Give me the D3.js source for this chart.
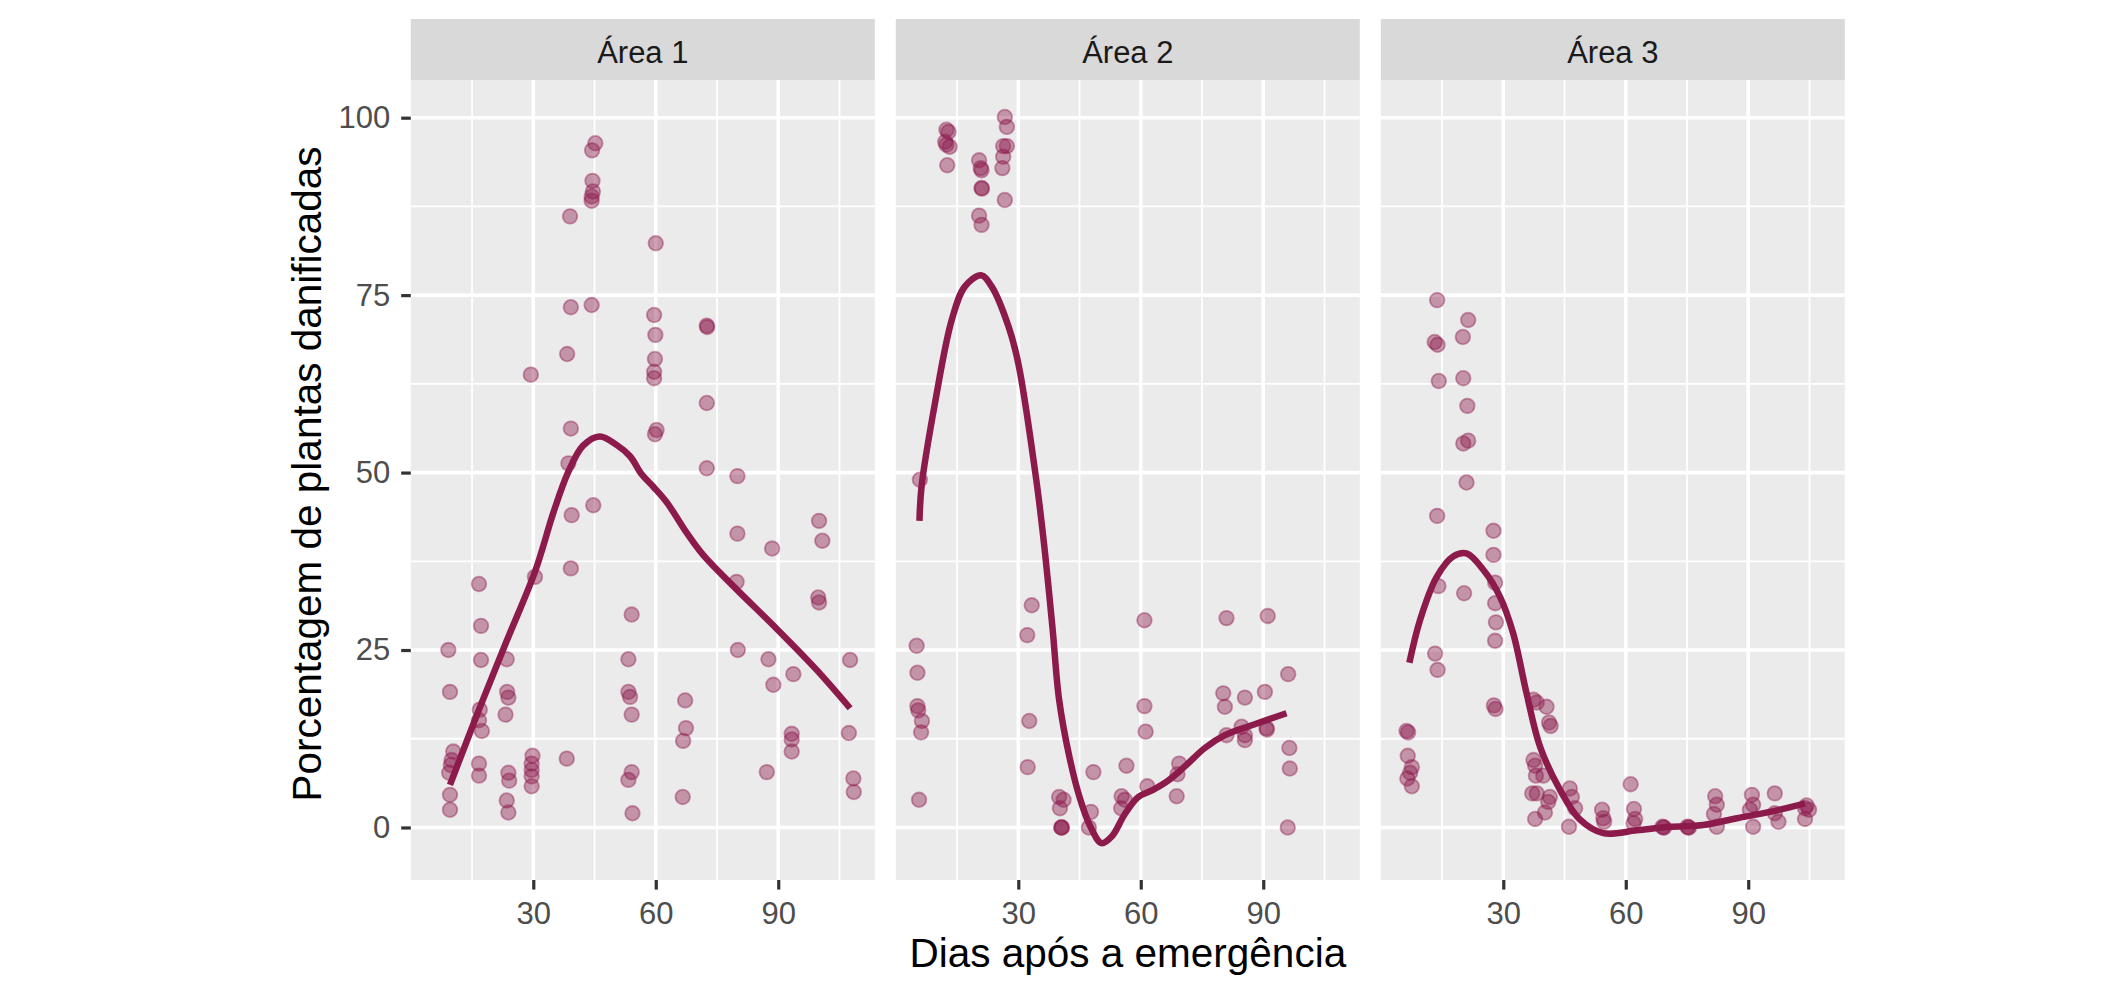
<!DOCTYPE html>
<html>
<head>
<meta charset="utf-8">
<script src="https://cdn.jsdelivr.net/npm/d3@7"></script>
<style>
  html, body { margin: 0; padding: 0; background: #ffffff; }
  svg { display: block; font-family: "Liberation Sans", Arial, Helvetica, sans-serif; }
</style>
</head>
<body>
<svg id="chart" width="2124" height="984"></svg>
<script>
// ---------------- DATA ----------------
const areas = ["Área 1", "Área 2", "Área 3"];

const area1Days = [45.2,44.4,44.5,44.6,44.3,44.3,39.0,60.0,39.2,44.3,59.6,59.9,72.5,72.6,38.3,29.4,59.8,59.6,59.6,72.5,39.2,60.2,59.8,38.6,72.5,80.0,
  39.4,44.7,80.0,88.5,100.0,100.8,39.2,16.7,30.4,79.8,99.8,100.0,54.1,17.2,9.2,17.2,23.5,53.3,80.1,87.6,107.6,9.6,23.6,23.9,53.3,53.7,88.8,93.7,
  23.2,54.1,67.2,16.9,16.7,17.4,67.4,66.7,93.3,93.3,93.3,107.3,10.4,10.0,9.8,9.4,16.7,16.7,23.9,24.1,23.5,23.9,29.8,29.6,29.6,29.6,29.6,38.2,
  54.1,53.3,54.3,66.6,87.2,108.4,108.5,9.6,9.6];
const area1Pct = [96.4,95.4,91.1,89.6,88.9,88.3,86.1,82.3,73.3,73.6,72.2,69.4,70.7,70.5,66.7,63.8,66.0,64.2,63.3,59.8,56.2,56.0,55.4,51.3,50.6,49.5,
  44.0,45.4,41.4,39.3,43.2,40.4,36.5,34.3,35.3,34.6,32.4,31.7,30.0,28.4,25.0,23.6,23.7,23.7,25.0,23.7,23.6,19.1,19.1,18.3,19.1,18.4,20.1,21.6,
  15.9,15.9,17.9,16.6,15.1,13.6,14.0,12.2,13.2,12.4,10.7,13.3,10.7,9.5,8.8,7.7,9.0,7.3,7.7,6.6,3.8,2.1,10.1,9.0,8.1,7.2,5.8,9.7,
  7.8,6.7,2.0,4.3,7.8,6.9,5.0,4.6,2.5];

const area2Days = [12.4,12.9,12.1,12.4,13.2,12.6,26.7,27.2,26.3,27.2,26.3,26.1,26.7,20.4,20.8,21.0,21.0,21.1,20.4,21.0,5.9,5.1,5.3,5.3,5.5,6.4,6.2,5.7,
  33.3,32.2,32.7,32.3,40.0,41.1,40.2,40.6,40.7,40.5,48.4,47.8,47.3,56.5,55.3,56.1,55.2,60.9,60.9,61.2,61.6,68.8,69.4,69.0,
  81.0,80.2,80.6,81.0,85.5,84.7,85.5,85.5,91.1,90.4,90.8,90.9,96.1,96.4,96.5,96.0];
const area2Pct = [98.3,98.0,96.6,96.2,95.9,93.3,100.1,98.7,96.0,96.0,94.5,92.9,88.4,94.0,92.9,92.6,90.1,90.0,86.2,84.9,49.0,25.6,21.8,17.1,16.5,15.0,13.4,3.9,
  31.3,27.1,15.0,8.5,4.3,3.9,2.7,0,0,0,7.8,2.2,0,8.7,4.4,3.9,2.7,29.2,17.1,13.5,5.8,4.4,9.0,7.5,
  29.5,18.9,17.0,13.0,18.3,14.2,13.0,12.3,29.8,19.1,14.0,13.8,21.6,11.2,8.3,0];

const area3Days = [13.8,21.4,20.1,13.2,13.9,14.2,20.2,21.2,20.2,21.4,21.0,13.8,27.6,27.6,14.1,20.4,28.0,28.0,28.2,28.0,13.3,13.9,27.7,28.1,
  6.3,6.7,6.6,7.6,7.2,6.5,7.6,37.4,38.2,40.6,41.2,41.6,37.4,37.8,38.0,39.8,37.1,38.2,41.4,41.0,40.2,37.8,46.3,46.8,47.6,46.1,
  54.2,54.5,54.7,61.2,62.0,62.3,61.9,69.2,69.4,69.0,75.3,75.5,75.1,81.9,82.3,81.6,82.3,90.9,91.2,90.4,91.2,96.5,96.5,97.4,
  103.9,104.9,103.9,104.3];
const area3Pct = [74.3,71.5,69.1,68.4,68.0,62.9,63.3,59.4,54.1,54.5,48.6,43.9,41.8,38.4,34.0,33.0,34.5,31.6,28.9,26.3,24.5,22.2,17.2,16.7,
  13.6,13.4,10.1,8.5,7.7,6.9,5.8,18.0,17.6,17.0,14.8,14.3,9.5,8.7,7.3,7.3,4.8,4.8,4.3,3.6,2.1,1.2,5.5,4.3,2.7,0.1,
  2.5,1.3,0.8,6.1,2.6,1.2,0.6,0,0,0.1,0,0,0.1,4.4,3.2,1.9,0.1,4.6,3.2,2.5,0.1,4.8,2.0,0.8,
  2.7,2.5,1.2,3.1];

// smoothed (loess) curves
const area1SmoothDays = [9.6,16.7,23.5,30.4,35.0,38.5,42.2,46.3,50.4,53.7,56.5,59.4,62.7,67.6,71.6,79.0,89.6,99.4,107.6];
const area1SmoothPct  = [6.0,16.6,26.3,36.0,44.5,50.0,53.8,55.1,53.9,52.3,49.8,48.0,45.8,41.5,38.4,34.0,28.0,22.2,16.8];
const area2SmoothDays = [5.8,6.3,9.6,13.7,16.9,20.9,23.5,27.6,30.0,34.4,36.3,38.4,40.0,42.5,45.0,47.6,50.4,53.0,56.0,59.4,63.0,66.7,70.8,75.7,80.6,87.2,95.7];
const area2SmoothPct  = [43.2,48.0,59.8,71.5,76.2,77.8,76.2,70.6,65.4,49.0,40.0,28.0,18.0,10.0,4.3,0.2,-2.2,-1.2,1.8,4.3,5.3,6.6,8.6,11.2,13.0,14.4,16.1];
const area3SmoothDays = [7.0,9.6,13.7,17.8,21.0,25.1,29.2,32.4,35.7,39.0,43.9,48.8,54.5,62.7,70.8,79.0,87.2,95.3,103.9];
const area3SmoothPct  = [23.2,29.2,35.3,38.2,38.6,36.3,32.5,27.4,18.9,11.4,5.3,1.1,-0.8,-0.4,0.1,0.35,1.3,2.2,3.4];

const xTicks = [30, 60, 90];
const xMinor = [15, 45, 75, 105];
const yTicks = [0, 25, 50, 75, 100];
const yMinor = [12.5, 37.5, 62.5, 87.5];
const xTitle = "Dias após a emergência";
const yTitle = "Porcentagem de plantas danificadas";

// ---------------- LAYOUT ----------------
const panelLefts = [410.8, 895.8, 1380.8];
const panelW = 464, panelTop = 80, panelBottom = 880;
const stripTop = 19;
const color = "#8C1B4C";
const tickFont = 31, titleFont = 40.5;

const svg = d3.select("#chart");

const x = d3.scaleLinear().domain([0, 113.65]).range([0, panelW]);
const y = d3.scaleLinear().domain([-7.40, 105.31]).range([panelBottom - panelTop, 0]);

const pointSets = [
  d3.zip(area1Days, area1Pct),
  d3.zip(area2Days, area2Pct),
  d3.zip(area3Days, area3Pct)
];
const smoothSets = [
  d3.zip(area1SmoothDays, area1SmoothPct),
  d3.zip(area2SmoothDays, area2SmoothPct),
  d3.zip(area3SmoothDays, area3SmoothPct)
];

const line = d3.line().x(d => x(d[0])).y(d => y(d[1])).curve(d3.curveCatmullRom.alpha(0.5));

areas.forEach((name, i) => {
  const g = svg.append("g").attr("transform", `translate(${panelLefts[i]},${panelTop})`);
  // strip
  svg.append("rect").attr("x", panelLefts[i]).attr("y", stripTop)
    .attr("width", panelW).attr("height", panelTop - stripTop).attr("fill", "#D9D9D9");
  svg.append("text").attr("x", panelLefts[i] + panelW / 2).attr("y", 62.5)
    .attr("text-anchor", "middle").attr("font-size", tickFont).attr("fill", "#1A1A1A").text(name);
  // panel bg
  g.append("rect").attr("width", panelW).attr("height", panelBottom - panelTop).attr("fill", "#EBEBEB");
  // minor grid
  g.selectAll(".xmin").data(xMinor).join("line")
    .attr("x1", d => x(d)).attr("x2", d => x(d)).attr("y1", 0).attr("y2", panelBottom - panelTop)
    .attr("stroke", "#fff").attr("stroke-width", 1.8);
  g.selectAll(".ymin").data(yMinor).join("line")
    .attr("y1", d => y(d)).attr("y2", d => y(d)).attr("x1", 0).attr("x2", panelW)
    .attr("stroke", "#fff").attr("stroke-width", 1.8);
  // major grid
  g.selectAll(".xmaj").data(xTicks).join("line")
    .attr("x1", d => x(d)).attr("x2", d => x(d)).attr("y1", 0).attr("y2", panelBottom - panelTop)
    .attr("stroke", "#fff").attr("stroke-width", 3.6);
  g.selectAll(".ymaj").data(yTicks).join("line")
    .attr("y1", d => y(d)).attr("y2", d => y(d)).attr("x1", 0).attr("x2", panelW)
    .attr("stroke", "#fff").attr("stroke-width", 3.6);
  // points
  g.selectAll("circle").data(pointSets[i]).join("circle")
    .attr("cx", d => x(d[0])).attr("cy", d => y(d[1])).attr("r", 7.3)
    .attr("fill", color).attr("fill-opacity", 0.42)
    .attr("stroke", color).attr("stroke-opacity", 0.42).attr("stroke-width", 1.8);
  // smooth
  g.append("path").datum(smoothSets[i]).attr("d", line)
    .attr("fill", "none").attr("stroke", color).attr("stroke-width", 6.5)
    .attr("stroke-linecap", "butt").attr("stroke-linejoin", "round");
  // x axis
  const xa = g.append("g").attr("transform", `translate(0,${panelBottom - panelTop})`)
    .call(d3.axisBottom(x).tickValues(xTicks).tickSize(9.6).tickPadding(12));
  xa.select(".domain").remove();
  xa.selectAll("line").attr("stroke", "#333333").attr("stroke-width", 3.2);
  xa.selectAll("text").attr("font-size", tickFont).attr("fill", "#4D4D4D").attr("font-family", "Liberation Sans, Arial, sans-serif");
  if (i === 0) {
    const ya = g.append("g").call(d3.axisLeft(y).tickValues(yTicks).tickSize(9.6).tickPadding(11));
    ya.select(".domain").remove();
    ya.selectAll("line").attr("stroke", "#333333").attr("stroke-width", 3.2);
    ya.selectAll("text").attr("font-size", tickFont).attr("fill", "#4D4D4D").attr("font-family", "Liberation Sans, Arial, sans-serif");
  }
});

// axis titles
svg.append("text").attr("x", (panelLefts[0] + panelLefts[2] + panelW) / 2).attr("y", 967)
  .attr("text-anchor", "middle").attr("font-size", titleFont).attr("fill", "#000").text(xTitle);
svg.append("text").attr("transform", `translate(321,474) rotate(-90)`)
  .attr("text-anchor", "middle").attr("font-size", titleFont).attr("fill", "#000").text(yTitle);
</script>
</body>
</html>
